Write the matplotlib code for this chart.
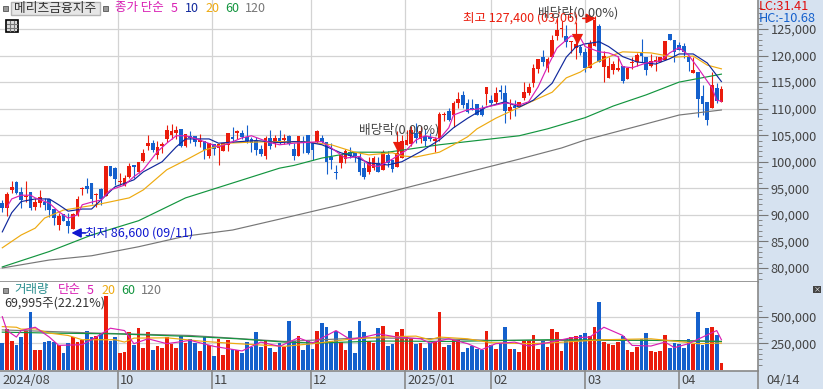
import matplotlib
matplotlib.use('Agg')
import matplotlib.pyplot as plt
import numpy as np
from matplotlib.patches import Rectangle

plt.rcParams['font.family'] = ['Noto Sans CJK KR', 'DejaVu Sans']

opens = [92200,91300,94700,96100,94400,93300,94400,91500,92300,92500,
         92900,91100,88000,90200,88900,87400,90000,94900,95400,96000,
         93800,94900,93500,99200,98900,96200,95700,97200,99400,98100,
         100200,103000,103500,101300,102900,104300,105000,105400,106100,103000,
         104900,104900,103700,104000,101000,103300,102500,102000,103200,104700,
         105500,105500,104700,104300,104000,102400,101000,104400,103500,104400,
         104100,104900,102400,101100,103900,105000,103500,103700,104400,103700,
         100900,98000,99700,100500,101800,101800,101000,98800,98100,98800,
         99700,98400,101300,100400,99000,100800,103200,103300,105400,104300,
         104900,104700,104000,104400,108800,109600,108800,111000,112600,111000,
         110100,110900,109900,112800,111600,111300,113500,113000,109600,110500,
         110500,112000,112900,114800,117500,119800,117600,119800,123600,125000,
         123600,122600,121400,121700,120700,117600,121800,125600,117900,115800,
         117200,117200,118000,115600,118600,118800,120600,119800,118100,118700,
         118700,119200,124100,122900,122000,121800,119800,116800,116900,112300,
         111200,110200,113800,111300]
closes = [91300,93900,95300,94100,92800,93500,91300,92500,93400,91900,
          90900,89500,89800,88900,87900,90200,93000,95000,94800,93000,
          93900,93000,99200,97300,96800,96300,97000,99200,99000,99900,
          101700,103500,102300,102800,103300,106000,105800,106000,103000,105200,
          104500,103800,104100,102200,103500,102400,103300,103500,105500,104200,
          105800,104700,104000,103500,102200,101400,104400,103000,104400,103600,
          104500,103300,101100,104900,103600,101600,102200,105700,103700,100000,
          100300,97800,101300,102100,101100,101000,98000,97100,100000,100700,
          98100,101800,99700,98600,101600,103900,104100,106000,104500,105700,
          104000,104300,104200,109000,109000,107900,111100,111800,110700,109400,
          109800,108800,108900,114100,111100,113000,113200,109600,110300,110100,
          111200,113100,114000,117600,119300,118800,119300,122900,124900,125200,
          122600,122700,122200,120500,117600,122300,126700,118800,119900,118000,
          118400,117700,115300,117600,118700,120100,120000,117200,119000,119200,
          119700,122700,122900,120700,121000,120600,118800,117300,111900,110900,
          107900,114500,111400,113700]
highs = [92800,94400,96400,96400,95300,96400,94400,93100,94600,93100,
         92900,91100,90300,90200,90300,90300,93500,95300,96900,96000,
         94100,95000,99200,99200,99100,97900,97500,99800,99400,99900,
         102400,105000,104100,104000,103800,106900,107200,106700,106100,105200,
         105800,104900,105200,104000,103600,103300,103400,103500,105500,106500,
         106000,105900,106900,104700,104700,103100,104800,106000,105000,106000,
         105300,105100,103500,104900,104900,105000,103500,105900,105000,103700,
         103500,99400,101300,102400,102700,101800,101800,99900,100900,101000,
         100900,102200,102000,100400,105700,105100,106000,106700,107300,106700,
         106100,105500,104700,109400,109400,110200,111400,113100,113400,111900,
         111800,110900,110600,114100,112500,114100,114400,114400,111800,111600,
         111200,115000,114800,118500,119300,121000,119700,123800,127000,126500,
         125700,122700,126300,122000,121500,123000,127400,125900,120900,119700,
         118900,120000,118000,117600,119700,120500,123100,119800,120300,120000,
         119700,122700,124100,122900,122500,122300,119800,119800,116900,114500,
         111200,116900,114900,114300]
lows = [90500,89800,94100,93900,91300,92400,91000,90900,91400,90900,
        89600,88100,87100,88900,86600,87300,89800,93700,94200,92000,
        91500,91900,93500,97300,95600,95600,95400,97000,96900,97900,
        100000,102200,101900,100600,101700,103800,104300,104300,102700,102800,
        103500,102900,102800,100500,100800,101300,99400,102000,102000,103800,
        104300,104300,103500,101900,101300,101000,100500,102400,102800,103400,
        103300,103100,100300,101100,101600,101400,100300,103500,103500,97700,
        98700,96700,98800,99700,100700,100000,97500,96800,97700,98400,
        98100,98400,99000,98000,99000,100700,103200,103000,103500,103500,
        103000,103900,101900,103900,107700,107600,106600,110200,110200,109100,
        109800,108800,108600,110600,110600,110900,111800,107300,108000,108700,
        110500,111700,112600,114100,116700,118000,116900,119700,122900,123400,
        121600,120400,119400,120100,116900,117600,121800,118800,115100,115800,
        116500,117100,114800,115600,117500,118000,118800,116400,117800,117000,
        118700,119200,122900,118800,121000,119500,117100,116800,108500,108800,
        106900,110200,111000,111300]
# thousands of shares
volumes = [253,386,268,231,309,370,546,185,185,259,
           268,259,231,160,253,309,262,278,370,309,
           315,339,694,268,309,160,170,361,238,392,
           207,361,191,222,207,309,241,204,315,253,
           293,256,176,309,231,130,287,139,278,201,
           185,160,259,216,355,216,268,207,170,253,
           216,463,268,315,185,268,194,370,444,407,
           268,370,262,185,370,160,463,352,272,253,
           398,417,222,241,352,380,309,293,241,253,
           204,253,262,546,216,231,284,278,167,204,
           222,194,188,370,231,194,253,407,194,194,
           167,268,275,324,194,268,216,386,352,179,
           293,309,315,324,346,315,407,639,262,241,
           231,259,315,185,170,216,293,346,179,170,
           179,324,210,253,241,207,287,241,546,231,
           398,407,324,70]

ma5_idx = [1,2,4,6,7,10,12,14,16,17,19,21,23,26,28,30,33,35,37,39,42,46,48,51,53,57,59,62,
           68,70,73,76,78,80,83,86,88,90,93,95,96,99,101,104,107,110,112,114,116,118,121,123,
           124,127,129,131,132,134,137,140,142,144,146,148,151,152,153]
ma5 = [91500,93000,93700,93700,93200,92200,90600,89400,90000,91900,92400,92800,94700,95600,97200,98500,
       101900,103500,104900,104900,104100,102800,103400,104500,104900,103600,103200,103500,
       103800,102600,100700,101000,99400,99100,100500,102200,104100,104900,104300,106400,108800,109800,
       109900,110500,111100,110700,111300,114100,117900,121400,123700,123300,
       121700,120700,120500,119800,117900,117700,118600,119000,120500,121500,120100,117700,113900,111600,111400]
ma10_idx = [0,2,4,7,10,12,14,17,19,21,24,28,30,34,37,39,44,46,49,54,
            59,62,65,68,72,75,78,82,85,89,93,96,99,103,107,110,113,117,120,122,
            124,127,129,132,135,139,142,144,147,150,153]
ma10 = [86800,90400,92500,93000,93000,91900,90700,91100,91100,92800,
        95300,96600,98100,100000,102800,104300,104300,103500,103700,104000,
        103600,103800,103700,103200,101700,100900,99800,99400,100000,101900,
        104100,106400,108200,110300,111300,110300,111600,114800,119700,121600,
        122200,122600,121700,119800,118800,118400,119400,120300,120300,118600,115100]
ma20_idx = [0,4,7,9,13,20,27,30,35,39,43,48,53,59,
            65,70,75,78,83,85,88,93,96,99,101,105,112,117,120,123,126,130,132,138,143,147,150,153]
ma20 = [83800,86200,87500,89400,90900,91900,93200,94700,98500,100300,102200,103500,103700,103800,
        103700,103200,101800,101300,101700,101100,100900,101800,103200,104700,106200,108200,111100,
        113100,115800,116900,118600,120100,120700,120500,119700,119900,118200,117500]
ma60_idx = [0,10,19,29,39,49,59,62,68,75,82,93,110,116,124,130,137,144,153]
ma60 = [80200,83100,86200,88900,93200,96000,98800,99300,100700,101800,101800,103200,104900,106200,
        108300,110500,112600,115000,116500]
ma120_idx = [0,10,19,29,39,49,59,72,85,110,119,124,136,144,153]
ma120 = [80000,81500,82300,84000,86000,87150,89200,91900,94900,100500,102600,104100,106900,108800,109750]

vol_ma5_idx = [0,1,3,4,7,10,12,17,20,23,26,28,31,35,40,45,51,55,59,63,66,71,74,77,80,84,89,91,95,99,102,105,
               109,112,116,121,125,128,132,134,138,141,143,146,149,152,153]
vol_ma5 = [500,370,309,370,401,309,231,238,309,392,370,247,293,247,278,222,179,262,222,302,253,370,287,309,
           339,309,293,253,293,247,191,247,262,225,256,302,309,401,324,231,225,262,210,247,309,370,284]
vol_ma20_idx = [0,3,4,7,10,14,17,24,26,28,35,43,50,60,66,73,80,88,91,93,99,104,112,116,128,138,145,148,153]
vol_ma20 = [407,401,383,386,346,324,284,284,262,299,302,268,247,222,247,284,309,318,284,309,293,256,247,253,
            284,293,262,247,253]
vol_ma60_idx = [0,12,24,40,50,60,67,80,95,116,138,153]
vol_ma60 = [355,345,339,315,293,262,253,272,268,284,278,268]
vol_ma120_idx = [0,21,40,60,77,93,104,116,141,153]
vol_ma120 = [376,345,324,268,302,293,278,278,278,268]

month_pos = [24.6,44.6,65.7,85.7,104,124,144]
month_labels = ['10','11','12','2025/01','02','03','04']
price_ticks = list(range(80000,130000,5000))
vol_ticks = [250000,500000]
red, blue = '#ea1c0c', '#1460cc'
W, H = 823, 389
x0, dx = 2.3, 4.7
bg = '#d6e2f0'

def to_fig(x, y):
    return x / W, 1 - y / H

fig = plt.figure(figsize=(W / 100, H / 100), dpi=100, facecolor=bg)
xlim = (-x0 / dx, (758 - x0) / dx)
ax1 = fig.add_axes([0, 1 - 282 / H, 758 / W, 282 / H])
ax2 = fig.add_axes([0, 1 - 371 / H, 758 / W, 89 / H])
for ax in (ax1, ax2):
    ax.set_xlim(xlim)
    ax.set_facecolor('white')
    ax.yaxis.tick_right()
    ax.set_xticks(month_pos)
    ax.tick_params(axis='x', length=0, labelbottom=False)
    ax.grid(True, color='#d3d3d3', lw=0.9)
    ax.set_axisbelow(True)
    ax.tick_params(axis='y', which='major', length=7, color='#777777', labelcolor='#444444', labelsize=9.2, pad=2)
    ax.tick_params(axis='y', which='minor', length=3, color='#777777')
    for name, s in ax.spines.items():
        s.set_color('#888888')
        s.set_linewidth(1.2)
        s.set_visible(name in ('right', 'bottom'))

ax1.set_ylim(125000 - 253 * 188.3, 125000 + 29 * 188.3)
ax1.set_yticks(price_ticks)
ax1.set_yticklabels([f'{v:,}' for v in price_ticks])
ax1.set_yticks(np.arange(78000, 130000, 1000), minor=True)
ax2.set_ylim(-9000, 825000)
ax2.set_yticks(vol_ticks)
ax2.set_yticklabels([f'{v:,}' for v in vol_ticks])
ax2.set_yticks(np.arange(50000, 650000, 50000), minor=True)

idx = np.arange(len(opens))
o, c = np.array(opens), np.array(closes)
colors = [red if cl >= op else blue for op, cl in zip(o, c)]

ax1.vlines(idx, lows, highs, colors=colors, lw=0.8, zorder=3)
ax1.bar(idx, np.maximum(np.abs(c - o), 200), bottom=np.minimum(o, c), width=0.8, color=colors, lw=0, zorder=3)
for xs, ys, col in [(ma120_idx, ma120, '#777777'), (ma60_idx, ma60, '#13953f'), (ma20_idx, ma20, '#eeaa10'),
                    (ma10_idx, ma10, '#10289c'), (ma5_idx, ma5, '#d91fb4')]:
    ax1.plot(xs, ys, color=col, lw=0.85, zorder=4)

ax2.bar(idx, np.array(volumes) * 1000, width=0.8, color=colors, lw=0, zorder=2)
for xs, ys, col in [(vol_ma120_idx, vol_ma120, '#777777'), (vol_ma60_idx, vol_ma60, '#13953f'),
                    (vol_ma20_idx, vol_ma20, '#eeaa10'), (vol_ma5_idx, vol_ma5, '#d91fb4')]:
    ax2.plot(xs, np.array(ys) * 1000, color=col, lw=0.85, zorder=3)

# annotations on the price panel
ax1.annotate('', xy=(14.7, 86600), xytext=(17.7, 86600),
             arrowprops=dict(arrowstyle='-|>', color='#1018d0', lw=1.2, shrinkA=0, shrinkB=0, mutation_scale=14))
ax1.text(17.7, 86600, '최저 86,600 (09/11)', color='#1018d0', fontsize=9, va='center', ha='left', zorder=6)
ax1.annotate('', xy=(126.3, 127000), xytext=(123.5, 127000),
             arrowprops=dict(arrowstyle='-|>', color=red, lw=1.2, shrinkA=0, shrinkB=0, mutation_scale=14), zorder=6)
ax1.text(98, 127000, '최고 127,400 (03/06)', color=red, fontsize=9, va='center', ha='left', zorder=6)
ax1.text(114, 128100, '배당락(0.00%)', color='#444444', fontsize=9.2, va='center', ha='left', zorder=6)
ax1.text(76, 106100, '배당락(0.00%)', color='#444444', fontsize=9.2, va='center', ha='left', zorder=6)
ax1.scatter([84.1, 122.3], [102800, 123100], marker='v', s=65, color=red, lw=0, zorder=6)

# bottom date strip
for p in month_pos:
    fig.add_artist(plt.Line2D([(x0 + dx * p) / W] * 2, [0, 18 / H], color='#888888', lw=1.2))
fig.add_artist(plt.Line2D([758 / W] * 2, [0, 18 / H], color='#888888', lw=1.2))
for p, lab in zip(month_pos, month_labels):
    fig.text((x0 + dx * p + 2) / W, 1 - 380 / H, lab, color='#444444', fontsize=9.2, va='center')
fig.text(2 / W, 1 - 380 / H, '2024/08', color='#444444', fontsize=9.2, va='center')
fig.text(766 / W, 1 - 380 / H, '04/14', color='#444444', fontsize=9.2, va='center')

# right top labels
fig.text(759 / W, 1 - 7 / H, 'LC:31.41', color='#e01010', fontsize=9.2, va='center')
fig.text(759 / W, 1 - 19 / H, 'HC:-10.68', color='#1460cc', fontsize=9.2, va='center')

def legend(items, y):
    for x, s, col in items:
        fig.text(x / W, 1 - y / H, s, color=col, fontsize=9, va='center', zorder=10)

def square(x, y):
    fig.add_artist(Rectangle(to_fig(x, y + 5), 5 / W, 5 / H, fc='#999999', ec='#555555', lw=0.6))

# header of the price panel
square(3, 6)
fig.add_artist(Rectangle(to_fig(11, 15), 89 / W, 13 / H, fc='#e6e6e6', ec='#b5b5b5', lw=1))
fig.text(14 / W, 1 - 8.5 / H, '메리츠금융지주', color='#333333', fontsize=9.2, va='center')
square(103, 6)
legend([(115, '종가 단순', '#d91fb4'), (171, '5', '#d91fb4'), (185, '10', '#10289c'),
        (205, '20', '#eeaa10'), (225, '60', '#13953f'), (245, '120', '#777777')], 8)
fig.add_artist(Rectangle(to_fig(6, 32), 12 / W, 12 / H, fc='#dddddd', ec='black', lw=1.2))
for k in (10, 14):
    fig.add_artist(plt.Line2D([k / W] * 2, [1 - 21 / H, 1 - 31 / H], color='#777777', lw=0.8))
for k in (24, 28):
    fig.add_artist(plt.Line2D([7 / W, 17 / W], [1 - k / H] * 2, color='#777777', lw=0.8))

# header of the volume panel
square(3, 288)
legend([(14, '거래량', '#2b8f8f'), (58, '단순', '#d91fb4'), (87, '5', '#d91fb4'), (101, '20', '#eeaa10'),
        (121, '60', '#13953f'), (141, '120', '#777777')], 290)
fig.text(4 / W, 1 - 303 / H, '69,995주(22.21%)', color='#333333', fontsize=9, va='center', zorder=10)
fig.add_artist(Rectangle(to_fig(813, 293), 8 / W, 7 / H, fc='#444444', ec='none'))
fig.text(817 / W, 1 - 289.5 / H, '×', color='white', fontsize=5, va='center', ha='center', zorder=11)

fig.savefig('out.png', dpi=100, facecolor=bg)
